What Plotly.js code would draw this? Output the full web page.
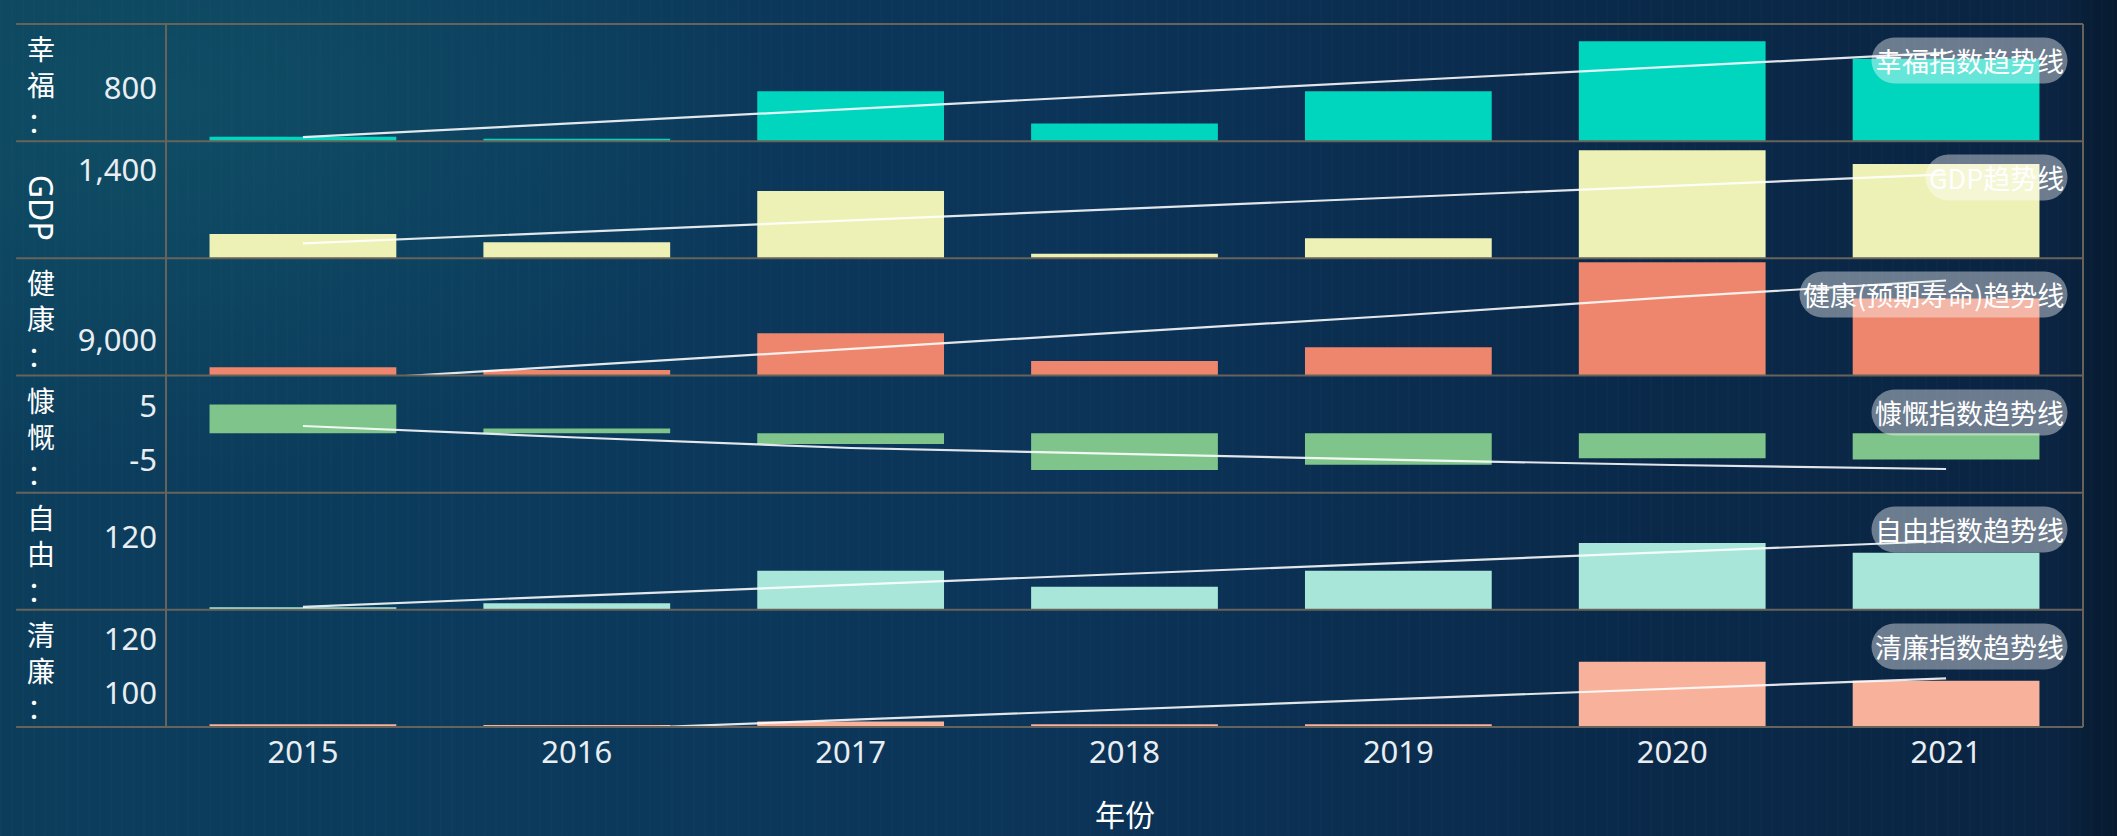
<!DOCTYPE html>
<html>
<head>
<meta charset="utf-8">
<script src="https://cdn.plot.ly/plotly-3.0.1.min.js"></script>
<style>
html,body{margin:0;padding:0;width:2117px;height:836px;overflow:hidden;}
body{
  background:
    radial-gradient(ellipse 30% 45% at 8% 12%, rgba(20,100,112,0.42), rgba(20,100,112,0) 100%),
    repeating-linear-gradient(90deg, rgba(255,255,255,0.012) 0px, rgba(255,255,255,0.012) 2px, rgba(0,0,0,0) 2px, rgba(0,0,0,0) 11px),
    linear-gradient(90deg, #0c3e5c 0%, #0b3a5c 25%, #0b3458 50%, #0a2a4b 75%, #0a2442 97%, #071a2f 100%);
}
#chart{width:2117px;height:836px;}
</style>
</head>
<body>
<div id="chart"></div>
<script>
// ---- data ----
const years = ['2015', '2016', '2017', '2018', '2019', '2020', '2021'];
const trendEnds = ['2015', '2021'];

const happiness  = [708.5, 704.7, 794, 733.1, 794, 888, 854.9];
const gdp        = [1146, 1114, 1317, 1068, 1130, 1478, 1424];
const health     = [8693, 8662, 9077, 8764, 8919, 9877, 9468];
const generosity = [5.4, 0.9, -2.0, -6.9, -5.9, -4.7, -4.9];
const freedom    = [62.2, 65.5, 92, 78.9, 92, 114.8, 106.9];
const corruption = [88.2, 87.9, 89.2, 88.2, 88.2, 111.6, 104.5];

const happinessTrend  = [707.5, 866.4];
const gdpTrend        = [1109, 1383];
const healthTrend     = [8523, 8713, 8901, 9088, 9276, 9482, 9670];
const generosityTrend = [1.37, -0.79, -2.76, -3.88, -5.0, -5.95, -6.7];
const freedomTrend    = [62.5, 116.5];
const corruptionTrend = [82.1, 105.4];

const happinessTicks  = [800];     const happinessTickText  = ['800'];
const gdpTicks        = [1400];    const gdpTickText        = ['1,400'];
const healthTicks     = [9000];    const healthTickText     = ['9,000'];
const generosityTicks = [5, -5];   const generosityTickText = ['5', '-5'];
const freedomTicks    = [120];     const freedomTickText    = ['120'];
const corruptionTicks = [120, 100];const corruptionTickText = ['120', '100'];

const axisTitles  = ['幸福：', 'GDP', '健康：', '慷慨：', '自由：', '清廉：'];
const trendLabels = ['幸福指数趋势线', 'GDP趋势线', '健康(预期寿命)趋势线', '慷慨指数趋势线', '自由指数趋势线', '清廉指数趋势线'];
const xTitle = '年份';

// ---- panel set-up (styles / axis ranges) ----
const panels = [
  {values: happiness,  trendX: trendEnds, trend: happinessTrend,  tv: happinessTicks,  tt: happinessTickText,  range: [700, 920.2],     color: '#00d5be'},
  {values: gdp,        trendX: trendEnds, trend: gdpTrend,        tv: gdpTicks,        tt: gdpTickText,        range: [1050, 1514.4],   color: '#eef1b6'},
  {values: health,     trendX: years,     trend: healthTrend,     tv: healthTicks,     tt: healthTickText,     range: [8600, 9920],     color: '#ed866c'},
  {values: generosity, trendX: years,     trend: generosityTrend, tv: generosityTicks, tt: generosityTickText, range: [-11.14, 10.84],  color: '#7fc48a'},
  {values: freedom,    trendX: trendEnds, trend: freedomTrend,    tv: freedomTicks,    tt: freedomTickText,    range: [60, 156.2],      color: '#a7e6d8'},
  {values: corruption, trendX: trendEnds, trend: corruptionTrend, tv: corruptionTicks, tt: corruptionTickText, range: [87.15, 131.05],  color: '#f8b19b'}
];

const FONT = "'Noto Sans', 'Noto Sans CJK SC', sans-serif";
const CJK = "'Noto Sans CJK SC', 'Noto Sans', sans-serif";
const N = panels.length;
const lineColor = '#68635a';

const traces = [];
const layout = {
  width: 2117, height: 836,
  margin: {l: 166, r: 34, t: 24, b: 109},
  paper_bgcolor: 'rgba(0,0,0,0)',
  plot_bgcolor: 'rgba(0,0,0,0)',
  showlegend: false,
  bargap: 0.318,
  font: {family: FONT, color: '#e8eef2'},
  xaxis: {
    type: 'category', domain: [0, 1], anchor: 'y' + N,
    showline: false, showgrid: false, zeroline: false, ticks: '',
    tickfont: {size: 31, color: '#e8eef2', family: FONT},
    ticklabelstandoff: 4, fixedrange: true
  },
  shapes: [],
  annotations: []
};

panels.forEach((p, i) => {
  const yName = i === 0 ? 'y' : 'y' + (i + 1);
  const yKey = i === 0 ? 'yaxis' : 'yaxis' + (i + 1);
  const d0 = 1 - (i + 1) / N, d1 = 1 - i / N;
  layout[yKey] = {
    domain: [d0, d1], range: p.range, anchor: 'x',
    tickvals: p.tv, ticktext: p.tt,
    showgrid: false, zeroline: false, showline: false, ticks: '',
    tickfont: {size: 31, color: '#e8eef2', family: FONT},
    ticklabelstandoff: 8, fixedrange: true
  };
  traces.push({
    type: 'bar', x: years, y: p.values, xaxis: 'x', yaxis: yName,
    marker: {color: p.color, line: {width: 0}}, hoverinfo: 'skip'
  });
  traces.push({
    type: 'scatter', mode: 'lines', x: p.trendX, y: p.trend, xaxis: 'x', yaxis: yName,
    line: {color: 'rgba(255,255,255,0.88)', width: 2.2}, hoverinfo: 'skip'
  });

  // trend label (pill)
  layout.annotations.push({
    xref: 'paper', yref: 'paper', x: 1, y: d1, xanchor: 'right', yanchor: 'top',
    xshift: -15, yshift: -13, showarrow: false, text: trendLabels[i],
    font: {size: 27, color: '#ffffff', family: CJK},
    bgcolor: 'rgba(255,255,255,0.4)', borderpad: 3
  });

  // axis title (vertical)
  const title = axisTitles[i];
  const yc = (d0 + d1) / 2;
  if (/^[\x00-\x7F]+$/.test(title)) {
    layout.annotations.push({
      xref: 'paper', yref: 'paper', x: 0, y: yc, xshift: -125, yshift: -8,
      xanchor: 'center', yanchor: 'middle', textangle: 90, showarrow: false,
      text: title, font: {size: 32, color: '#ffffff', family: FONT}
    });
  } else {
    layout.annotations.push({
      xref: 'paper', yref: 'paper', x: 0, y: yc, xshift: -125, yshift: -2,
      xanchor: 'center', yanchor: 'middle', showarrow: false, align: 'center',
      text: Array.from(title).join('<br>'), font: {size: 28, color: '#ffffff', family: CJK}
    });
  }
});

// panel border lines
for (let k = 0; k <= N; k++) {
  layout.shapes.push({type: 'line', xref: 'paper', yref: 'paper', x0: -0.0782, x1: 1, y0: k / N, y1: k / N,
    line: {color: lineColor, width: 2}, layer: 'above'});
}
[0, 1].forEach(xv => layout.shapes.push({type: 'line', xref: 'paper', yref: 'paper', x0: xv, x1: xv, y0: 0, y1: 1,
  line: {color: lineColor, width: 2}, layer: 'above'}));

// x axis title
layout.annotations.push({
  xref: 'paper', yref: 'paper', x: 0.5, y: 0, yshift: -86, xanchor: 'center', yanchor: 'middle',
  showarrow: false, text: xTitle, font: {size: 30, color: '#ffffff', family: CJK}
});

Plotly.newPlot('chart', traces, layout, {displayModeBar: false, staticPlot: true}).then(gd => {
  gd.querySelectorAll('g.annotation').forEach(g => {
    const r = g.querySelector('rect.bg');
    if (!r) return;
    const h = parseFloat(r.getAttribute('height')) || 0;
    r.setAttribute('rx', h / 2);
    r.setAttribute('ry', h / 2);
  });
});
</script>
</body>
</html>
